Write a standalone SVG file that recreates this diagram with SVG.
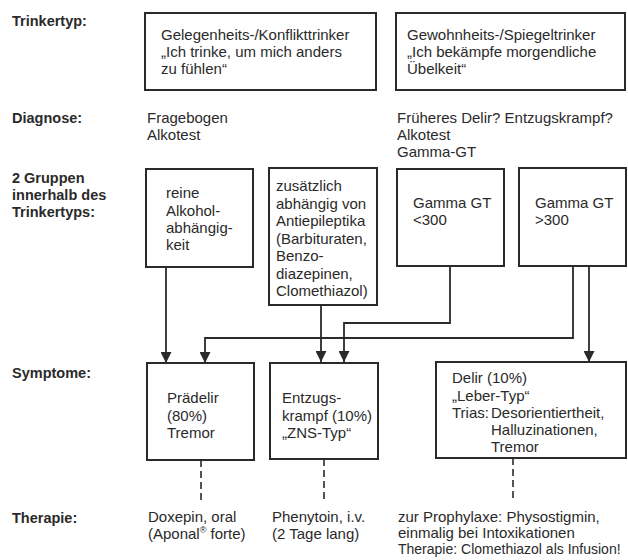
<svg xmlns="http://www.w3.org/2000/svg" width="628" height="560" viewBox="0 0 628 560">
<style>
text{font-family:"Liberation Sans",Arial,sans-serif;font-size:15px;fill:#2a2a2a}
.lbl{font-weight:bold;font-size:14.5px}
.box{fill:#fff;stroke:#2a2a2a;stroke-width:2}
.con{fill:none;stroke:#2a2a2a;stroke-width:1.8}
.dash{fill:none;stroke:#2a2a2a;stroke-width:1.6;stroke-dasharray:7 4}
</style>
<defs>
<marker id="arr" markerUnits="userSpaceOnUse" markerWidth="11" markerHeight="11" refX="11" refY="5.5" orient="auto">
<path d="M0,0 L11,5.5 L0,11 z" fill="#2a2a2a"/>
</marker>
</defs>
<rect width="628" height="560" fill="#fff"/>
<g id="labels">
<text class="lbl" x="12" y="26">Trinkertyp:</text>
<text class="lbl" x="12" y="123">Diagnose:</text>
<text class="lbl" x="12" y="183">2 Gruppen</text>
<text class="lbl" x="12" y="200">innerhalb des</text>
<text class="lbl" x="12" y="217">Trinkertyps:</text>
<text class="lbl" x="12" y="378">Symptome:</text>
<text class="lbl" x="12" y="523">Therapie:</text>
</g>
<g id="typ1">
<rect class="box" x="145" y="13" width="231" height="77"/>
<text x="161" y="40">Gelegenheits-/Konflikttrinker</text>
<text x="161" y="57">„Ich trinke, um mich anders</text>
<text x="161" y="74">zu fühlen“</text>
</g>
<g id="typ2">
<rect class="box" x="396" y="13" width="229" height="77"/>
<text x="407" y="40">Gewohnheits-/Spiegeltrinker</text>
<text x="407" y="57">„Ich bekämpfe morgendliche</text>
<text x="407" y="74">Übelkeit“</text>
</g>
<g id="diag1">
<text x="147" y="123">Fragebogen</text>
<text x="147" y="140">Alkotest</text>
</g>
<g id="diag2">
<text x="397" y="123">Früheres Delir? Entzugskrampf?</text>
<text x="397" y="140">Alkotest</text>
<text x="397" y="157">Gamma-GT</text>
</g>
<g id="reine">
<rect class="box" x="146" y="169" width="107" height="98"/>
<text x="166" y="198">reine</text>
<text x="166" y="216">Alkohol-</text>
<text x="166" y="233">abhängig-</text>
<text x="166" y="250">keit</text>
</g>
<g id="zusaetzlich">
<rect class="box" x="269" y="168" width="108" height="137"/>
<text x="276" y="191">zusätzlich</text>
<text x="276" y="208.5">abhängig von</text>
<text x="276" y="226">Antiepileptika</text>
<text x="276" y="243.5">(Barbituraten,</text>
<text x="276" y="261">Benzo-</text>
<text x="276" y="278.5">diazepinen,</text>
<text x="276" y="296">Clomethiazol)</text>
</g>
<g id="gt_low">
<rect class="box" x="397" y="169" width="107" height="97"/>
<text x="413" y="208">Gamma GT</text>
<text x="413" y="225">&lt;300</text>
</g>
<g id="gt_high">
<rect class="box" x="519" y="168" width="107" height="98"/>
<text x="535" y="208">Gamma GT</text>
<text x="535" y="225">&gt;300</text>
</g>
<g id="connectors">
<path class="con" d="M166,267 V363" marker-end="url(#arr)"/>
<path class="con" d="M573,266 V338 H205 V363" marker-end="url(#arr)"/>
<path class="con" d="M321,305 V362" marker-end="url(#arr)"/>
<path class="con" d="M450,266 V323 H344 V362" marker-end="url(#arr)"/>
<path class="con" d="M589,266 V362" marker-end="url(#arr)"/>
<path class="dash" d="M201,460 V503"/>
<path class="dash" d="M324,459 V502"/>
<path class="dash" d="M513,458 V502"/>
</g>
<g id="praedelir">
<rect class="box" x="147" y="363" width="107" height="97"/>
<text x="167" y="403">Prädelir</text>
<text x="167" y="421">(80%)</text>
<text x="167" y="438">Tremor</text>
</g>
<g id="entzugskrampf">
<rect class="box" x="270" y="363" width="108" height="96"/>
<text x="282" y="403">Entzugs-</text>
<text x="282" y="420.5">krampf (10%)</text>
<text x="282" y="438">„ZNS-Typ“</text>
</g>
<g id="delir">
<rect class="box" x="436" y="362" width="190" height="96"/>
<text x="452" y="383">Delir (10%)</text>
<text x="452" y="401">„Leber-Typ“</text>
<text x="452" y="418">Trias:</text>
<text x="491" y="418">Desorientiertheit,</text>
<text x="491" y="435">Halluzinationen,</text>
<text x="491" y="452">Tremor</text>
</g>
<g id="ther1">
<text x="148" y="522">Doxepin, oral</text>
<text x="148" y="539">(Aponal<tspan font-size="9" dy="-6">®</tspan><tspan dy="6"> forte)</tspan></text>
</g>
<g id="ther2">
<text x="272" y="522">Phenytoin, i.v.</text>
<text x="272" y="539">(2 Tage lang)</text>
</g>
<g id="ther3">
<text x="398" y="522">zur Prophylaxe: Physostigmin,</text>
<text x="398" y="538">einmalig bei Intoxikationen</text>
<text x="398" y="554" style="font-size:14px">Therapie: Clomethiazol als Infusion!</text>
</g>
</svg>
